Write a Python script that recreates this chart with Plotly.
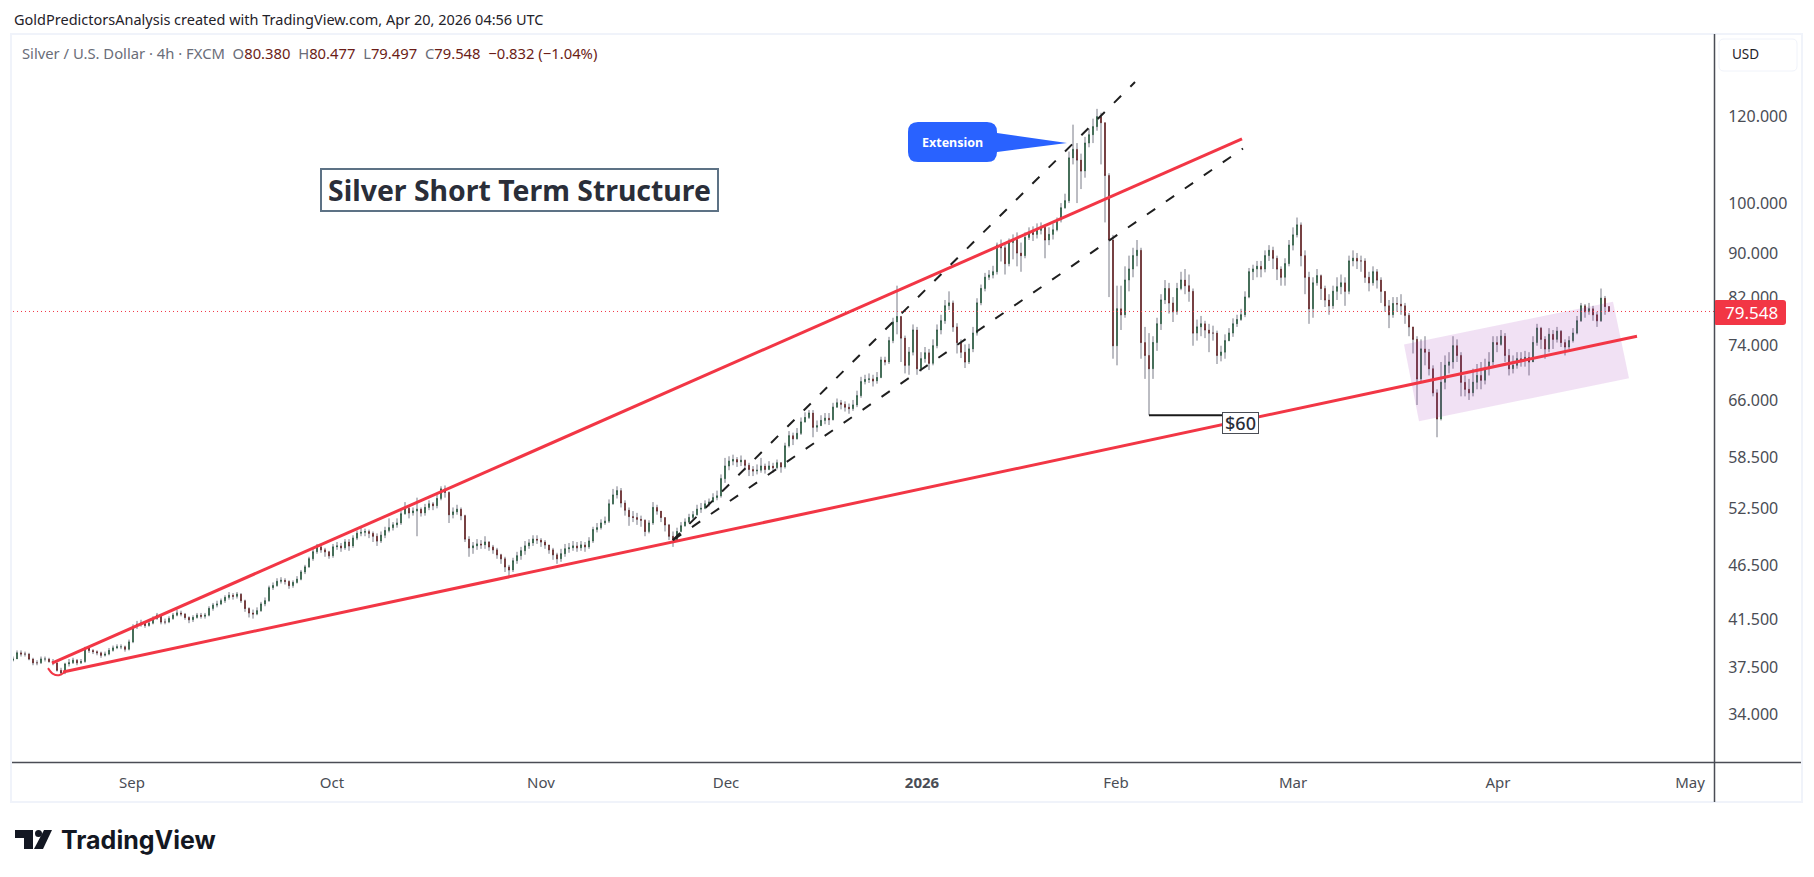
import plotly.graph_objects as go

# 4h silver candles, sampled along the session axis
closes = [
 38.2,38.7,38.6,38.6,38.2,37.9,37.9,38.2,38.2,38.0,37.9,37.3,37.1,37.8,37.9,38.1,37.9,38.0,39.1,38.9,38.8,38.7,38.5,38.6,38.9,
 39.1,39.2,39.2,39.0,39.6,40.9,41.1,41.2,41.0,41.2,41.6,41.9,41.3,41.3,41.6,41.9,42.1,42.0,41.7,41.5,41.7,41.9,41.8,41.9,42.5,
 42.8,42.9,43.2,43.5,43.7,43.6,43.8,43.2,42.5,42.1,42.0,42.3,42.9,43.2,44.4,44.6,45.0,45.1,45.0,44.6,44.9,45.2,45.9,46.4,47.2,
 47.9,48.4,48.1,47.9,47.5,48.4,48.5,48.3,48.9,48.5,49.3,49.8,49.9,50.0,49.8,49.5,49.0,49.6,50.1,50.4,50.7,50.9,51.9,52.5,52.0,
 52.2,52.4,52.0,52.6,53.0,52.8,53.6,54.7,54.3,51.8,52.1,52.4,51.7,49.2,48.3,48.5,48.7,48.6,48.9,48.4,48.1,47.6,47.2,46.4,46.1,
 47.0,47.5,48.0,48.5,48.8,49.2,49.1,48.9,48.6,48.1,47.6,47.2,47.7,48.2,48.3,48.5,48.3,48.6,48.4,49.0,50.2,50.4,50.9,51.1,53.0,
 54.0,54.5,53.1,52.3,51.6,51.5,51.3,51.2,50.0,50.9,52.6,52.2,51.5,50.7,49.5,49.1,50.0,50.6,51.0,51.5,51.8,52.4,52.5,53.0,53.2,
 53.7,53.9,55.9,57.4,58.0,58.2,57.9,58.1,57.5,57.0,56.8,56.9,57.4,57.0,57.4,57.2,57.8,57.3,59.9,61.2,60.8,61.5,63.0,63.6,64.2,
 62.3,62.5,63.2,63.5,63.3,65.0,65.6,65.4,65.0,64.8,65.3,66.6,68.6,68.9,69.0,68.7,69.2,71.8,71.5,74.8,77.8,78.7,75.2,71.0,73.0,
 76.5,70.5,72.0,72.9,71.3,74.0,76.5,78.0,80.5,81.0,77.0,74.5,73.0,71.5,73.5,76.0,81.0,83.5,85.5,85.9,86.5,91.5,91.0,88.0,92.0,
 92.6,90.0,89.5,93.0,94.0,93.6,94.4,95.0,92.5,93.6,94.5,96.5,99.0,100.5,110.0,112.0,109.5,107.0,113.5,115.5,117.5,120.0,118.5,106.0,92.5,
 74.0,80.0,79.0,85.0,87.0,89.5,90.5,74.5,72.5,70.5,74.5,77.5,81.5,83.5,81.0,79.5,83.5,85.0,84.0,83.0,76.0,77.0,77.5,76.5,76.0,
 76.0,72.5,73.0,74.8,76.0,77.5,78.2,79.0,82.0,86.5,87.0,87.5,87.0,89.5,90.5,89.0,87.0,85.5,88.0,91.5,93.5,95.5,89.5,85.5,80.0,
 84.5,85.8,83.5,81.5,80.5,83.0,83.8,84.5,83.0,88.5,89.0,88.5,88.5,85.5,84.5,86.5,85.0,83.0,80.5,79.0,80.9,80.8,80.5,78.9,77.0,
 75.0,69.0,73.5,73.0,70.5,67.0,63.4,68.5,71.0,71.5,74.0,72.5,68.5,67.5,67.0,68.5,69.5,68.8,70.5,71.5,74.5,74.2,75.5,72.5,70.5,
 71.0,72.0,71.8,72.2,71.5,74.5,76.8,75.0,73.5,75.8,75.0,76.3,74.5,73.8,74.8,76.0,78.0,80.5,79.5,80.0,79.0,78.0,81.8,80.38,79.548,
]
highs = [
 38.4,38.9,38.9,38.8,38.7,38.3,38.1,38.4,38.4,38.3,38.2,37.9,37.5,37.9,38.2,38.3,38.2,38.2,39.2,39.2,39.0,38.9,38.8,38.8,39.1,
 39.3,39.4,39.4,39.3,39.8,41.1,41.4,41.5,41.3,41.4,41.8,42.1,42.0,41.6,41.8,42.1,42.4,42.3,42.1,41.8,41.9,42.1,42.1,42.1,42.7,
 43.0,43.2,43.4,43.7,44.0,43.9,44.0,43.9,43.3,42.6,42.4,42.6,43.1,43.5,44.6,44.9,45.3,45.4,45.3,45.1,45.1,45.5,46.1,46.6,47.4,
 48.2,48.7,48.6,48.3,48.0,48.7,48.9,48.8,49.2,49.2,49.6,50.1,50.5,50.3,50.2,50.0,49.8,50.0,50.5,51.4,51.0,51.4,52.2,53.2,52.7,
 52.6,53.7,52.6,53.0,53.4,53.2,54.0,55.0,55.1,54.4,52.6,52.9,52.6,51.8,49.5,48.9,49.2,49.1,49.5,49.0,48.6,48.3,47.7,47.4,46.6,
 47.3,47.9,48.4,49.0,49.2,49.6,49.6,49.3,49.1,48.6,48.3,47.8,48.2,48.7,48.8,49.0,48.9,49.0,48.9,49.4,50.5,50.9,51.3,51.6,53.5,
 54.7,55.0,54.8,53.4,52.6,52.2,52.0,51.7,51.3,51.2,53.2,52.9,52.2,51.5,50.8,50.0,50.4,51.0,51.4,51.9,52.2,52.9,53.1,53.4,53.6,
 54.2,54.5,56.4,58.4,58.6,58.8,58.5,58.7,58.2,57.8,57.4,57.6,58.4,57.7,58.0,57.8,58.2,57.9,60.3,61.8,61.6,62.2,63.6,64.3,64.6,
 64.6,63.2,63.9,64.2,64.2,65.6,66.2,66.0,65.8,65.5,66.0,67.3,69.3,69.6,69.8,69.6,70.0,72.3,72.3,75.4,78.5,84.0,78.8,75.6,73.8,
 77.4,77.0,73.0,73.8,73.5,75.0,77.4,79.0,81.5,83.0,81.4,77.6,75.0,74.2,74.3,77.0,81.8,84.2,86.3,86.8,87.6,92.0,92.6,91.6,92.8,
 93.6,94.0,92.0,94.0,95.0,95.2,95.8,96.0,95.6,95.0,95.8,97.0,100.0,102.0,111.5,118.0,113.5,111.0,115.0,117.0,119.5,122.0,121.0,118.5,106.5,
 93.5,84.0,84.0,87.5,89.5,91.0,92.5,91.0,77.0,76.0,75.5,78.5,82.5,85.0,84.5,82.0,84.5,86.5,87.0,86.0,83.5,78.2,78.8,78.0,77.5,
 77.2,76.4,74.0,75.8,76.8,78.4,79.0,80.0,83.0,87.2,87.8,88.5,88.5,90.5,91.5,91.2,89.5,87.5,89.0,92.5,95.0,97.0,96.0,90.5,86.5,
 85.5,87.0,86.0,84.0,82.5,84.0,85.5,86.0,85.5,89.5,90.5,90.0,89.5,89.0,86.5,87.5,87.0,85.5,83.0,81.5,82.0,82.0,82.5,81.0,79.3,
 77.0,75.5,75.0,75.5,73.5,71.0,67.5,71.5,72.5,73.0,75.5,75.0,73.0,69.5,69.0,70.5,71.2,71.5,72.0,73.0,75.5,75.5,76.5,76.0,73.5,
 72.5,73.0,73.0,73.2,73.0,75.5,77.5,77.0,75.5,76.8,76.5,77.0,76.5,75.0,75.5,76.8,78.8,81.0,80.8,81.0,80.5,79.5,83.5,82.2,80.477,
]
lows = [
 38.0,38.2,38.4,38.4,38.1,37.7,37.7,37.8,38.0,37.9,37.7,37.2,36.9,37.0,37.6,37.8,37.7,37.8,37.9,38.7,38.6,38.5,38.3,38.4,38.5,
 38.8,39.0,39.0,38.8,38.9,39.5,40.7,40.9,40.8,40.9,41.1,41.5,41.1,41.1,41.2,41.5,41.8,41.8,41.5,41.2,41.3,41.6,41.6,41.6,41.8,
 42.3,42.6,42.8,43.0,43.3,43.3,43.4,43.0,42.2,41.7,41.6,41.9,42.2,42.7,43.1,44.2,44.5,44.8,44.7,44.3,44.4,44.8,45.1,45.7,46.3,
 47.0,47.7,47.8,47.4,47.2,47.3,48.1,47.9,48.1,48.0,48.3,49.1,49.5,49.5,49.3,48.9,48.5,48.8,49.3,49.9,50.1,50.4,50.7,51.8,51.4,
 51.7,49.5,51.6,51.7,52.3,52.3,52.5,53.4,53.7,50.9,51.4,51.8,51.2,48.9,47.4,47.7,48.1,48.2,48.2,48.0,47.7,47.2,46.7,45.9,45.3,
 45.9,46.7,47.1,47.6,48.2,48.5,48.7,48.4,48.2,47.7,47.1,46.7,46.9,47.4,47.8,48.0,47.9,48.0,47.9,48.2,48.8,49.9,50.2,50.7,50.9,
 52.9,53.6,52.6,51.7,50.6,51.0,50.7,50.5,49.5,49.8,50.7,51.8,51.0,50.0,49.1,48.4,48.9,49.9,50.5,50.9,51.3,51.7,52.0,52.4,52.7,
 53.2,53.4,53.7,55.4,56.9,57.5,57.3,57.4,56.9,56.2,56.2,56.4,56.6,56.5,56.9,56.6,57.0,56.6,57.1,59.7,60.0,60.7,61.3,62.9,63.4,
 61.0,61.7,62.5,62.7,62.6,63.2,64.9,64.7,64.4,64.1,64.5,65.0,66.3,68.2,68.4,67.9,68.3,69.1,71.0,71.2,74.4,75.8,71.5,69.8,69.6,
 72.5,69.6,70.1,71.4,70.3,71.0,73.6,75.8,77.5,79.8,76.2,72.8,72.1,70.6,71.2,73.0,75.6,80.6,83.0,85.0,85.3,86.0,88.4,86.0,87.5,
 88.8,87.5,86.5,89.0,92.5,92.3,92.8,93.6,89.0,91.5,92.6,94.2,96.0,98.8,100.0,108.5,100.0,103.0,105.5,112.5,113.5,116.5,108.5,96.0,82.0,
 72.0,71.0,76.5,78.5,83.0,85.5,87.5,72.0,69.0,63.9,69.0,73.2,76.5,80.8,79.2,77.8,79.0,83.2,82.5,81.2,74.0,74.8,75.5,75.2,73.0,
 74.8,71.2,71.6,72.0,74.7,75.4,77.0,78.0,78.6,81.8,85.0,85.5,85.5,86.4,88.5,87.0,85.0,84.0,84.0,87.5,90.5,93.0,87.5,82.5,77.5,
 78.5,84.0,81.5,80.3,79.0,80.0,81.5,82.5,80.5,82.5,87.5,87.0,86.5,84.5,83.0,84.0,83.5,81.0,79.5,76.8,78.5,79.5,79.0,77.5,75.5,
 72.8,65.3,68.5,71.0,69.5,66.5,61.0,63.2,67.5,69.8,70.5,71.5,66.5,66.5,66.0,66.5,67.5,67.5,68.2,69.5,71.0,73.0,74.0,71.5,69.5,
 69.8,70.5,70.8,70.8,69.5,71.5,74.0,73.5,72.0,73.0,73.5,74.5,73.8,72.5,73.5,74.5,75.8,77.8,78.5,79.0,78.0,77.0,77.8,79.0,79.497,
]
first_open = 38.1
last_price = 79.548

price_ticks = [34, 37.5, 41.5, 46.5, 52.5, 58.5, 66, 74, 82, 90, 100, 120]
month_positions = [29.75, 79.75, 132, 178.25, 227.25, 275.75, 320, 371.25, 419.25]
month_labels = ["Sep", "Oct", "Nov", "Dec", "<b>2026</b>", "Feb", "Mar", "Apr", "May"]

# Drawing tools, in bar number and price
upper_trend_x, upper_trend_y = [9.75, 307.25], [37.87, 114.5]
lower_trend_x, lower_trend_y = [12.5, 406], [37.17, 75.5]
swoosh_x, swoosh_y = [8.75, 10.0, 11.5, 13.0], [37.47, 37.02, 36.92, 37.17]
channel_top_x, channel_top_y = [165, 280.5], [49.1, 129.1]
channel_bot_x, channel_bot_y = [165, 307.5], [49.1, 112.2]
support_x, support_y = [284, 302.25], [63.9, 63.9]
zone_x = [347.75, 400, 404, 351.5]
zone_y = [74.2, 81.2, 69.1, 63.1]
x_range = [0, 425.25]
y_range_log = [1.4872, 2.15498]

W, H = 1814, 877
RED = "#f23645"


def px(x):
    return x / W


def py(y):
    return 1 - y / H


def rounded(x0, y0, x1, y1, r, tail=None, r_right=None):
    """Rounded rectangle path in paper coordinates; tail adds a pointer on the right side."""
    rr = r if r_right is None else r_right
    pts = [f"M{px(x0 + r)},{py(y0)}", f"L{px(x1 - rr)},{py(y0)}",
           f"Q{px(x1)},{py(y0)} {px(x1)},{py(y0 + rr)}"]
    if tail:
        for tx, ty in tail:
            pts.append(f"L{px(tx)},{py(ty)}")
    pts += [f"L{px(x1)},{py(y1 - rr)}", f"Q{px(x1)},{py(y1)} {px(x1 - rr)},{py(y1)}",
            f"L{px(x0 + r)},{py(y1)}", f"Q{px(x0)},{py(y1)} {px(x0)},{py(y1 - r)}",
            f"L{px(x0)},{py(y0 + r)}", f"Q{px(x0)},{py(y0)} {px(x0 + r)},{py(y0)}", "Z"]
    return " ".join(pts)


def poly(points):
    return "M" + " L".join(f"{px(x)},{py(y)}" for x, y in points) + " Z"


bars = list(range(len(closes)))
opens = [first_open] + closes[:-1]
body_top = [max(o, c) for o, c in zip(opens, closes)]
body_bot = [min(o, c) for o, c in zip(opens, closes)]

fig = go.Figure()

# Highlighted zone
fig.add_trace(go.Scatter(x=zone_x + zone_x[:1], y=zone_y + zone_y[:1], mode="lines", fill="toself",
                         fillcolor="rgba(156,39,176,0.14)", line=dict(width=0), hoverinfo="skip"))

# Wicks and bodies are separate layers so the wicks can stay grey
fig.add_trace(go.Candlestick(x=bars, open=closes, close=closes, high=highs, low=lows, whiskerwidth=0,
                             increasing=dict(line=dict(color="#787b86", width=1), fillcolor="#787b86"),
                             decreasing=dict(line=dict(color="#787b86", width=1), fillcolor="#787b86"),
                             hoverinfo="skip"))
fig.add_trace(go.Candlestick(x=bars, open=opens, close=closes, high=body_top, low=body_bot, whiskerwidth=0,
                             increasing=dict(line=dict(color="#1a5232", width=0.7), fillcolor="#1a5232"),
                             decreasing=dict(line=dict(color="#5c1212", width=0.7), fillcolor="#5c1212"),
                             hoverinfo="skip"))

# Last price marker
fig.add_trace(go.Scatter(x=x_range, y=[last_price, last_price], mode="lines",
                         line=dict(color=RED, width=1, dash="1px,3px"), hoverinfo="skip"))

# Trend lines
for tx, ty in [(upper_trend_x, upper_trend_y), (lower_trend_x, lower_trend_y)]:
    fig.add_trace(go.Scatter(x=tx, y=ty, mode="lines", line=dict(color=RED, width=3), hoverinfo="skip"))
fig.add_trace(go.Scatter(x=swoosh_x, y=swoosh_y, mode="lines",
                         line=dict(color=RED, width=2, shape="spline"), hoverinfo="skip"))

# Dashed channel
for tx, ty in [(channel_top_x, channel_top_y), (channel_bot_x, channel_bot_y)]:
    fig.add_trace(go.Scatter(x=tx, y=ty, mode="lines",
                             line=dict(color="#1f1f1f", width=2, dash="10px,13px"), hoverinfo="skip"))

# Support callout line
fig.add_trace(go.Scatter(x=support_x, y=support_y, mode="lines",
                         line=dict(color="#1a1a1a", width=2), hoverinfo="skip"))

shapes = [
    # outer frame and scale separators
    dict(type="rect", xref="paper", yref="paper", x0=px(11), x1=px(1802), y0=py(34), y1=py(802),
         line=dict(color="#f0f3fa", width=2), layer="below"),
    dict(type="line", xref="paper", yref="paper", x0=px(1714.5), x1=px(1714.5), y0=py(34), y1=py(802),
         line=dict(color="#4a4d55", width=1.5)),
    dict(type="line", xref="paper", yref="paper", x0=px(12), x1=px(1801), y0=py(762.5), y1=py(762.5),
         line=dict(color="#4a4d55", width=1.5)),
    # currency button
    dict(type="path", xref="paper", yref="paper", path=rounded(1719, 39, 1797, 71, 5),
         line=dict(color="#f0f3fa", width=1), fillcolor="white"),
    # last price badge
    dict(type="path", xref="paper", yref="paper", path=rounded(1715, 300, 1786, 325, 1, r_right=3),
         line=dict(width=0), fillcolor=RED),
    # speech bubble
    dict(type="path", xref="paper", yref="paper",
         path=rounded(908, 122, 997, 162, 10, tail=[(997, 133), (1067, 143), (997, 152)]),
         line=dict(width=0), fillcolor="#2962ff"),
    # logo mark
    dict(type="path", xref="paper", yref="paper",
         path=poly([(15, 830), (33, 830), (33, 849), (24, 849), (24, 838), (15, 838)]),
         line=dict(width=0), fillcolor="#131722"),
    dict(type="circle", xref="paper", yref="paper", x0=px(35), x1=px(42), y0=py(830), y1=py(837),
         line=dict(width=0), fillcolor="#131722"),
    dict(type="path", xref="paper", yref="paper",
         path=poly([(44, 830), (52, 830), (43, 849), (34, 849)]),
         line=dict(width=0), fillcolor="#131722"),
]

GREY = "#6a6d78"
VAL = "#6b1d17"
legend_text = (
    f"<span style='color:{GREY}'>Silver / U.S. Dollar · 4h · FXCM  O</span>80.380"
    f"<span style='color:{GREY}'>  H</span>80.477<span style='color:{GREY}'>  L</span>79.497"
    f"<span style='color:{GREY}'>  C</span>79.548  −0.832 (−1.04%)"
)


def note(x, y, text, size, color, family="Noto Sans", anchor="left", **kw):
    return dict(xref="paper", yref="paper", x=px(x), y=py(y), text=text, showarrow=False,
                xanchor=anchor, yanchor="middle",
                font=dict(size=size, color=color, family=family), **kw)


annotations = [
    note(12, 19, "GoldPredictorsAnalysis created with TradingView.com, Apr 20, 2026 04:56 UTC", 14.5, "#1f2229"),
    note(20, 53, legend_text, 14.8, VAL),
    note(519, 190, "<b>Silver Short Term Structure</b>", 28.4, "#2a2e39", anchor="center",
         bordercolor="#5d7285", borderwidth=2, borderpad=0, bgcolor="white", width=395, height=40),
    note(952, 142, "<b>Extension</b>", 12.5, "white", anchor="center"),
    note(1240, 423, "<span style='font-weight:500'>$60</span>", 18, "#2a2e39", anchor="center",
         bordercolor="#4a4d55", borderwidth=1, borderpad=0, bgcolor="white", width=35, height=20),
    note(1730, 54, "USD", 13.5, "#1f2229"),
    note(1751, 312.5, "79.548", 17, "white", anchor="center"),
    note(59, 840, "<b>TradingView</b>", 25, "#131722", family="Inter"),
]

fig.update_layout(
    width=W, height=H, autosize=False,
    margin=dict(l=0, r=0, t=0, b=0),
    paper_bgcolor="white", plot_bgcolor="white",
    showlegend=False, hovermode=False, dragmode=False,
    boxgap=0.8,
    shapes=shapes, annotations=annotations,
    xaxis=dict(domain=[px(13), px(1714)], range=x_range, type="linear",
               tickmode="array", tickvals=month_positions, ticktext=month_labels,
               showgrid=False, zeroline=False, showline=False,
               ticks="outside", ticklen=6, tickcolor="rgba(0,0,0,0)",
               tickfont=dict(size=15, color="#4a4d55", family="Noto Sans"),
               rangeslider=dict(visible=False), fixedrange=True),
    yaxis=dict(domain=[py(762.5), py(34)], type="log", range=y_range_log, side="right",
               tickmode="array", tickvals=price_ticks, ticktext=[f"{v:.3f}" for v in price_ticks],
               showgrid=False, zeroline=False, showline=False,
               ticks="outside", ticklen=10, tickcolor="rgba(0,0,0,0)",
               tickfont=dict(size=16, color="#4a4d55", family="Noto Sans"), fixedrange=True),
)

fig.write_html("out.html", config=dict(displayModeBar=False, responsive=False))
